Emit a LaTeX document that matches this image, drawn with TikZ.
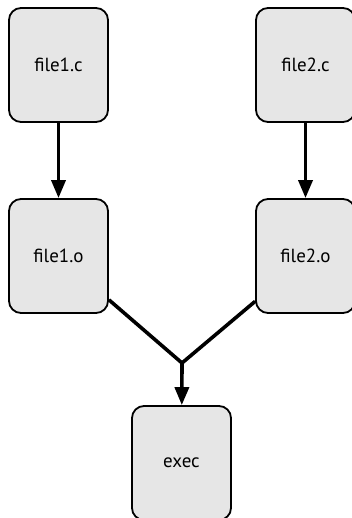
\documentclass[tikz,border=0pt]{standalone}
\usepackage{fontspec}
\setmainfont{PT Sans}
\usepackage{tikz}
\usetikzlibrary{arrows.meta}

\definecolor{boxgray}{HTML}{E6E6E6}

\begin{document}
\begin{tikzpicture}[x=1pt, y=1pt,
  filebox/.style={draw, line width=1.8pt, fill=boxgray, rounded corners=12pt,
    minimum width=99pt, minimum height=114pt, inner sep=0pt,
    font=\fontsize{19}{22}\selectfont},
  flow/.style={line width=3.6pt, -{Triangle[length=18pt, width=14pt]}}]
\useasboundingbox (0,0) rectangle (352,-518);
%\fill[white] (0,0) rectangle (352,-518);
\node [filebox] (file1c) at (58.5,-65) {file1.c};
\node [filebox] (file2c) at (305.5,-65) {file2.c};
\node [filebox] (file1o) at (58.5,-256) {file1.o};
\node [filebox] (file2o) at (305.5,-256) {file2.o};
\node [filebox] (exec) at (181.5,-463) {exec};
\coordinate (join) at (182,-363);
\draw [flow] (file1c) -- (file1o);
\draw [flow] (file2c) -- (file2o);
\draw [line width=3.6pt, line join=miter] (file1o.-41.6) -- (join) -- (file2o.-138.4);
\draw [flow] (join) -- (exec);
\end{tikzpicture}
\end{document}
